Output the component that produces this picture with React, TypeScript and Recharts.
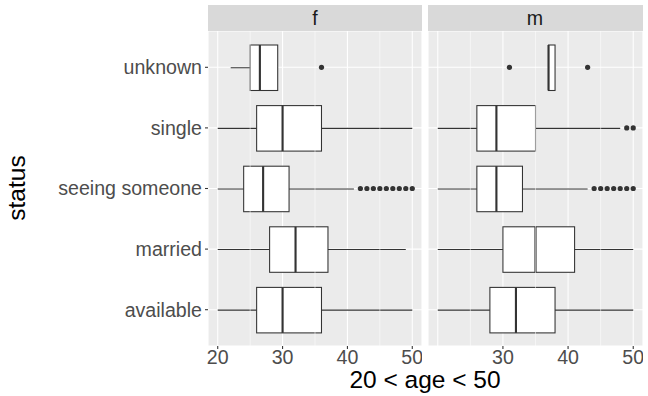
import { Bar, CartesianGrid, ComposedChart, ReferenceLine, Scatter, XAxis, YAxis } from "recharts";

const statuses = ["unknown", "single", "seeing someone", "married", "available"];
const ageTicks = [20, 30, 40, 50];
const minorTicks = [25, 35, 45];

// female panel
const fLow = [22, 20, 20, 20, 20];
const fQ1 = [25, 26, 24, 28, 26];
const fMedian = [26.5, 30, 27, 32, 30];
const fQ3 = [29.25, 36, 31, 37, 36];
const fHigh = [29.25, 50, 41, 49, 50];
const fOutliers: [string, number[]][] = [
  ["unknown", [36]],
  ["seeing someone", [42, 43, 44, 45, 46, 47, 48, 49, 50]],
];

// male panel
const mLow = [37, 20, 20, 20, 20];
const mQ1 = [37, 26, 26, 30, 28];
const mMedian = [37, 29, 29, 35, 32];
const mQ3 = [38, 35, 33, 41, 38];
const mHigh = [38, 48, 43, 50, 50];
const mOutliers: [string, number[]][] = [
  ["unknown", [31, 43]],
  ["single", [49, 50]],
  ["seeing someone", [44, 45, 46, 47, 48, 49, 50]],
];

const INK = "#333333";
const FONT = "'Liberation Sans', Arial, sans-serif";
const AXIS_TEXT = 19.6;
const TITLE_TEXT = 24.5;

function buildRows(low: number[], q1: number[], med: number[], q3: number[], high: number[]) {
  return statuses.map((status, i) => ({
    status,
    whisker: [low[i], high[i]],
    box: [q1[i], q3[i]],
    q1: q1[i],
    q3: q3[i],
    median: med[i],
  }));
}

function buildPoints(list: [string, number[]][]) {
  return list.flatMap(([status, ages]) => ages.map((age) => ({ status, age })));
}

function WhiskerShape(props: any) {
  const { x, y, width, height } = props;
  const left = Math.min(x, x + width);
  const right = Math.max(x, x + width);
  const cy = y + height / 2;
  return <line x1={left} x2={right} y1={cy} y2={cy} stroke={INK} strokeWidth={1.07} />;
}

function BoxShape(props: any) {
  const { x, y, width, height, payload } = props;
  const left = Math.min(x, x + width);
  const w = Math.abs(width);
  const mx = left + ((payload.median - payload.q1) / (payload.q3 - payload.q1)) * w;
  return (
    <g>
      <rect x={left} y={y} width={w} height={height} fill="#FFFFFF" stroke={INK} strokeWidth={1.07} />
      <line x1={mx} x2={mx} y1={y} y2={y + height} stroke={INK} strokeWidth={2.13} />
    </g>
  );
}

function OutlierDot(props: any) {
  const { cx, cy } = props;
  return <circle cx={cx} cy={cy} r={2.6} fill={INK} />;
}

type PanelProps = {
  rows: ReturnType<typeof buildRows>;
  points: { status: string; age: number }[];
  width: number;
  showY: boolean;
};

function Panel({ rows, points, width, showY }: PanelProps) {
  return (
    <ComposedChart
      layout="vertical"
      width={width}
      height={396}
      data={rows}
      margin={{ top: 31, right: 0, bottom: 0, left: 0 }}
      barGap={-45.5}
    >
      <CartesianGrid fill="#EBEBEB" stroke="#FFFFFF" strokeWidth={1.07} />
      <XAxis
        type="number"
        domain={[18.5, 51.5]}
        ticks={ageTicks}
        allowDataOverflow
        height={50}
        axisLine={false}
        tickSize={3}
        tickMargin={1}
        tickLine={{ stroke: INK, strokeWidth: 1.07 }}
        tick={{ fontSize: AXIS_TEXT, fill: "#4D4D4D" }}
      />
      <YAxis
        type="category"
        dataKey="status"
        allowDuplicatedCategory={false}
        hide={!showY}
        width={showY ? 208 : 0}
        padding={{ top: 6, bottom: 6 }}
        axisLine={false}
        tickSize={3}
        tickMargin={3}
        tickLine={{ stroke: INK, strokeWidth: 1.07 }}
        tick={{ fontSize: AXIS_TEXT, fill: "#4D4D4D" }}
      />
      {minorTicks.map((t) => (
        <ReferenceLine key={t} x={t} stroke="#FFFFFF" strokeWidth={0.53} />
      ))}
      <Bar dataKey="whisker" barSize={45.5} shape={<WhiskerShape />} isAnimationActive={false} />
      <Bar dataKey="box" barSize={45.5} shape={<BoxShape />} isAnimationActive={false} />
      <Scatter data={points} dataKey="age" shape={<OutlierDot />} isAnimationActive={false} />
    </ComposedChart>
  );
}

export default function App() {
  const femaleRows = buildRows(fLow, fQ1, fMedian, fQ3, fHigh);
  const maleRows = buildRows(mLow, mQ1, mMedian, mQ3, mHigh);

  const stripStyle = {
    position: "absolute" as const,
    top: 5,
    height: 26,
    background: "#D9D9D9",
    color: "#1A1A1A",
    fontSize: AXIS_TEXT,
    lineHeight: "26px",
    textAlign: "center" as const,
  };

  return (
    <div
      style={{
        position: "absolute",
        left: 0,
        top: 0,
        width: 648,
        height: 396,
        background: "#FFFFFF",
        fontFamily: FONT,
        overflow: "hidden",
      }}
    >
      <div style={{ position: "absolute", left: 0, top: 0 }}>
        <Panel rows={femaleRows} points={buildPoints(fOutliers)} width={422} showY />
      </div>
      <div style={{ position: "absolute", left: 427.5, top: 0 }}>
        <Panel rows={maleRows} points={buildPoints(mOutliers)} width={215} showY={false} />
      </div>
      <div style={{ ...stripStyle, left: 208, width: 214 }}>f</div>
      <div style={{ ...stripStyle, left: 427.5, width: 215 }}>m</div>
      <svg width={648} height={396} style={{ position: "absolute", left: 0, top: 0, pointerEvents: "none" }}>
        <text x={425} y={388} textAnchor="middle" fontSize={TITLE_TEXT} fill="#000000">
          20 &lt; age &lt; 50
        </text>
        <text
          x={0}
          y={0}
          transform="translate(25 188) rotate(-90)"
          textAnchor="middle"
          fontSize={TITLE_TEXT}
          fill="#000000"
        >
          status
        </text>
      </svg>
    </div>
  );
}
